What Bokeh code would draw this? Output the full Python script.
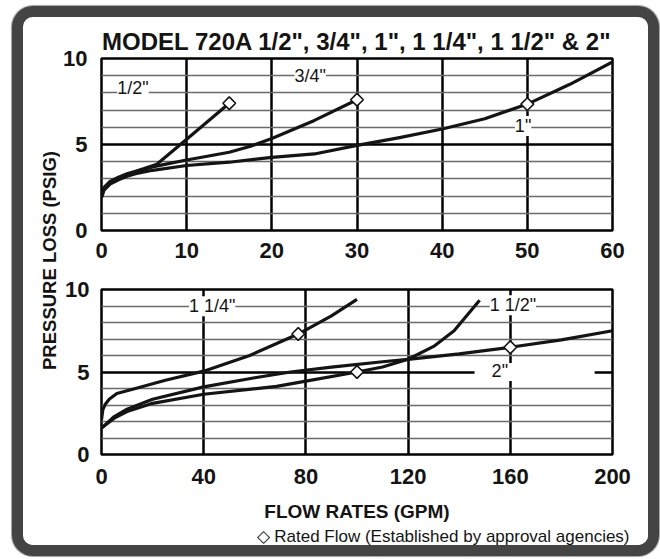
import math
from bokeh.plotting import figure
from bokeh.models import Range1d, FixedTicker, Grid, Label, BoxAnnotation, Title
from bokeh.layouts import column, row
from bokeh.embed import file_html
from bokeh.resources import INLINE

# ---------------- data ----------------
TITLE = 'MODEL 720A 1/2", 3/4", 1", 1 1/4", 1 1/2" & 2"'
Y_LABEL = "PRESSURE LOSS (PSIG)"
X_LABEL = "FLOW RATES (GPM)"
NOTE = "\u25c7 Rated Flow (Established by approval agencies)"

top_x_ticks = [0, 10, 20, 30, 40, 50, 60]
bot_x_ticks = [0, 40, 80, 120, 160, 200]
y_ticks = [0, 5, 10]

# top chart (0-60 GPM)
half_x = [0, 0.3, 1, 2, 3, 4, 5, 6.5, 10, 15]
half_y = [2.0, 2.5, 2.85, 3.1, 3.3, 3.45, 3.6, 3.85, 5.3, 7.4]
three_q_x = [0, 0.3, 1, 2, 3, 4, 6, 8, 10, 15, 17.5, 20, 25, 30]
three_q_y = [2.0, 2.45, 2.8, 3.05, 3.25, 3.4, 3.7, 3.9, 4.1, 4.55, 4.9, 5.35, 6.4, 7.6]
one_x = [0, 0.3, 1, 2, 3, 4, 6, 10, 15, 20, 25, 30, 35, 40, 45, 50, 55, 60]
one_y = [1.9, 2.35, 2.7, 2.95, 3.15, 3.3, 3.5, 3.78, 3.97, 4.25, 4.45, 4.95, 5.4, 5.9, 6.5, 7.35, 8.5, 9.8]
top_rated_x = [15, 30, 50]
top_rated_y = [7.4, 7.6, 7.35]

# bottom chart (0-200 GPM)
one_q_x = [0, 0.5, 1.5, 3, 6, 14, 25, 40, 58, 77, 90, 100]
one_q_y = [2.1, 2.7, 3.05, 3.35, 3.7, 4.03, 4.5, 5.05, 6.0, 7.3, 8.4, 9.4]
one_h_x = [0, 5, 10, 20, 40, 68.5, 80, 100, 110, 120, 130, 138, 148]
one_h_y = [1.6, 2.2, 2.6, 3.1, 3.65, 4.13, 4.45, 5.0, 5.3, 5.77, 6.55, 7.5, 9.35]
two_x = [0, 5, 10, 20, 40, 60, 74, 90, 110, 120, 140, 160, 180, 200]
two_y = [1.6, 2.3, 2.75, 3.35, 4.1, 4.65, 5.0, 5.3, 5.62, 5.77, 6.1, 6.5, 6.95, 7.5]
bot_rated_x = [77, 100, 160]
bot_rated_y = [7.3, 5.0, 6.5]

FONT = "Liberation Sans"
INK = "#141414"


def style(p, xticks, grid_x, xstd, ystd):
    p.outline_line_color = "black"
    p.outline_line_width = 2.5
    p.background_fill_color = "white"
    p.border_fill_color = "white"
    for ax in (p.xaxis[0], p.yaxis[0]):
        ax.axis_line_color = None
        ax.major_tick_line_color = None
        ax.minor_tick_line_color = None
        ax.minor_tick_out = 0
        ax.major_label_text_font = FONT
        ax.major_label_text_font_style = "bold"
        ax.major_label_text_font_size = "22px"
        ax.major_label_text_color = INK
    p.yaxis[0].major_tick_out = 0
    p.xaxis[0].ticker = FixedTicker(ticks=xticks)
    p.yaxis[0].ticker = FixedTicker(ticks=y_ticks)
    p.xaxis[0].major_label_standoff = xstd
    p.yaxis[0].major_label_standoff = ystd
    p.xgrid[0].ticker = FixedTicker(ticks=grid_x)
    p.xgrid[0].grid_line_color = "black"
    p.xgrid[0].grid_line_width = 2.5
    p.ygrid[0].ticker = FixedTicker(ticks=[1, 2, 3, 4, 6, 7, 8, 9])
    p.ygrid[0].grid_line_color = "#6a6a6a"
    p.ygrid[0].grid_line_width = 1.6
    p.add_layout(Grid(dimension=1, ticker=FixedTicker(ticks=[5]),
                      grid_line_color="black", grid_line_width=2.5))


def curve(p, xs, ys):
    p.line(xs, ys, line_color=INK, line_width=3.2, line_join="round")


def rated(p, xs, ys):
    p.scatter(xs, ys, marker="square", angle=math.pi / 4, size=9,
              fill_color="white", line_color=INK, line_width=1.6)


def tag(p, x, y, text):
    p.add_layout(Label(x=x, y=y, text=text, text_align="center", text_baseline="middle",
                       text_font=FONT, text_font_size="18px", text_color=INK,
                       background_fill_color="white", background_fill_alpha=1.0))


# ---------------- top chart ----------------
p1 = figure(width=588, height=249, x_range=Range1d(0, 60), y_range=Range1d(0, 10),
            toolbar_location=None, output_backend="svg", title=TITLE,
            min_border_left=39, min_border_right=33, min_border_top=41, min_border_bottom=36)
p1.title.text_font = FONT
p1.title.text_font_style = "bold"
p1.title.text_font_size = "24px"
p1.title.text_color = INK
p1.title.align = "center"
p1.title.offset = 3
p1.title.standoff = 7
style(p1, top_x_ticks, [10, 20, 30, 40, 50], 6, 14)
curve(p1, one_x, one_y)
curve(p1, three_q_x, three_q_y)
curve(p1, half_x, half_y)
rated(p1, top_rated_x, top_rated_y)
tag(p1, 3.7, 8.3, '1/2"')
tag(p1, 24.5, 9.0, '3/4"')
tag(p1, 49.5, 6.08, '1"')

# ---------------- bottom chart ----------------
p2 = figure(width=588, height=279, x_range=Range1d(0, 200), y_range=Range1d(0, 10),
            toolbar_location=None, output_backend="svg",
            min_border_left=37, min_border_right=36, min_border_top=23, min_border_bottom=84)
style(p2, bot_x_ticks, [40, 80, 120, 160], 8, 12)
p2.add_layout(BoxAnnotation(left=146, right=193, bottom=4.45, top=5.55, fill_color="white",
                            fill_alpha=1.0, line_color=None, level="underlay"))
p2.xaxis[0].axis_label = X_LABEL
p2.xaxis[0].axis_label_text_font = FONT
p2.xaxis[0].axis_label_text_font_style = "bold"
p2.xaxis[0].axis_label_text_font_size = "19px"
p2.xaxis[0].axis_label_text_color = INK
p2.xaxis[0].axis_label_standoff = 14
curve(p2, two_x, two_y)
curve(p2, one_h_x, one_h_y)
curve(p2, one_q_x, one_q_y)
rated(p2, bot_rated_x, bot_rated_y)
tag(p2, 43.3, 8.98, '1 1/4"')
tag(p2, 161, 9.04, '1 1/2"')
tag(p2, 155.9, 5.09, '2"')
p2.add_layout(Title(text=NOTE, align="left", offset=155, standoff=0,
                    text_font=FONT, text_font_style="normal", text_font_size="17px",
                    text_color=INK), "below")

# ---------------- y label strip ----------------
ylab = figure(width=37, height=528, x_range=Range1d(0, 37), y_range=Range1d(0, 528),
              toolbar_location=None, output_backend="svg", x_axis_type=None, y_axis_type=None,
              min_border=0, outline_line_color=None)
ylab.grid.visible = False
ylab.add_layout(Label(x=26, y=285, text=Y_LABEL, angle=math.pi / 2, text_align="center",
                      text_baseline="middle", text_font=FONT, text_font_style="bold",
                      text_font_size="18.5px", text_color=INK))

layout = row(ylab, column(p1, p2),
             styles={"margin-left": "23px", "margin-top": "17px",
                     "box-shadow": "0 0 0 11px #444444, 0 0 1px 12px #a0a0a0",
                     "border-radius": "10px", "overflow": "hidden",
                     "background-color": "white"})

open("out.html", "w").write(file_html(layout, INLINE))
